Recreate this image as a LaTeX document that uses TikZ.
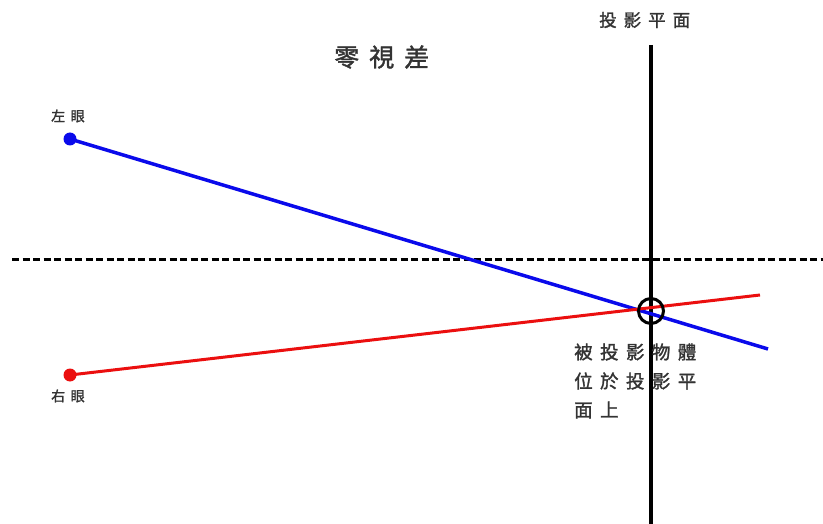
\documentclass[tikz,border=0pt]{standalone}
\usepackage{fontspec}
\newfontfamily\cjk[LetterSpace=40,FakeBold=1.5]{Noto Sans CJK TC}
\definecolor{eyeblue}{RGB}{10,10,235}
\definecolor{eyered}{RGB}{235,15,15}
\begin{document}
\begin{tikzpicture}[x=1pt,y=-1pt,
  lbl/.style={anchor=west,inner sep=0pt,text=black!80,font=\cjk},
  eye/.style={circle,inner sep=0pt,minimum size=13pt},
  ray/.style={line width=3.5pt}]
\useasboundingbox (0,0) rectangle (823,524);
\fill[white] (0,0) rectangle (823,524);
% titles
\node[lbl,font=\cjk\fontsize{25}{27}\selectfont] (title) at (334,57) {零視差};
\node[lbl,font=\cjk\fontsize{17.5}{19}\selectfont] (plane) at (599,20) {投影平面};
% projection plane
\coordinate (ptop) at (651,45);
\coordinate (pbot) at (651,524);
\draw[line width=3.5pt] (ptop) -- (pbot);
% zero parallax dashed line
\coordinate (dl) at (12,260);
\coordinate (dr) at (823,260);
\draw[line width=3pt,dash pattern=on 7pt off 3.5pt] (dl) -- (dr);
% eyes
\node[eye,fill=eyeblue] (L) at (70,139) {};
\node[eye,fill=eyered] (R) at (70,375) {};
\node[lbl,font=\cjk\fontsize{14}{16}\selectfont] (Ltxt) at (51,116) {左眼};
\node[lbl,font=\cjk\fontsize{14}{16}\selectfont] (Rtxt) at (51,396) {右眼};
% rays
\coordinate (Lend) at (768,349);
\coordinate (Rend) at (760,295);
\draw[ray,eyeblue] (L.center) -- (Lend);
\draw[ray,eyered,line width=3pt] (R.center) -- (Rend);
% object
\node[circle,draw=black,line width=3pt,minimum size=25pt,inner sep=0pt] (obj) at (651,311) {};
% caption
\node[lbl,font=\cjk\fontsize{18.5}{20}\selectfont] (c1) at (574,352) {被投影物體};
\node[lbl,font=\cjk\fontsize{18.5}{20}\selectfont] (c2) at (574,381) {位於投影平};
\node[lbl,font=\cjk\fontsize{18.5}{20}\selectfont] (c3) at (574,410) {面上};
\end{tikzpicture}
\end{document}
